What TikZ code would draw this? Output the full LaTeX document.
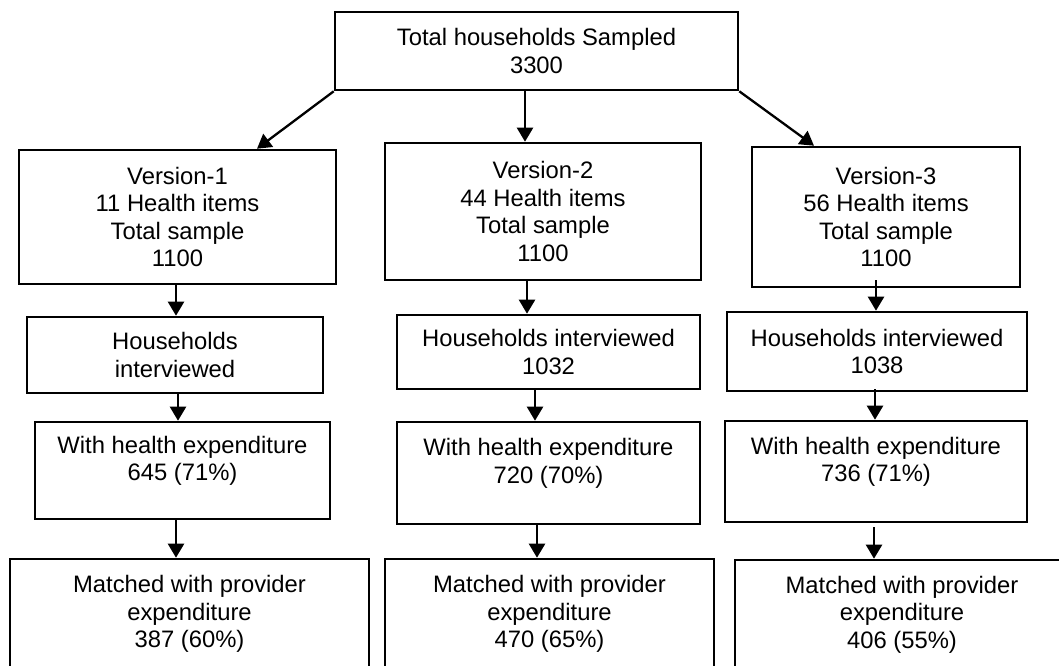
\documentclass[tikz,border=0pt]{standalone}
\usepackage{fontspec}
\setmainfont{Liberation Sans}
\usetikzlibrary{arrows.meta}
\begin{document}
\begin{tikzpicture}[x=1pt,y=-1pt,
  box/.style={draw, line width=2.6pt, align=center, inner sep=0pt,
    font=\fontsize{23.8}{27.5}\selectfont},
  arr/.style={line width=2.3pt, -{Triangle[width=16pt,length=14pt]}}]
\useasboundingbox (0,0) rectangle (1059,665);
% top
\node[box, minimum width=403pt, minimum height=78pt] (t) at (536.5,51)
  {Total households Sampled\\3300};
% versions
\node[box, minimum width=317pt, minimum height=134pt] (v1) at (177.5,217)
  {Version-1\\11 Health items\\Total sample\\1100};
\node[box, minimum width=316pt, minimum height=137pt] (v2) at (543,211.5)
  {Version-2\\44 Health items\\Total sample\\1100};
\node[box, minimum width=268pt, minimum height=140pt] (v3) at (886,217)
  {Version-3\\56 Health items\\Total sample\\1100};
% households interviewed
\node[box, minimum width=296pt, minimum height=76pt] (h1) at (175,355)
  {Households\\interviewed};
\node[box, minimum width=303pt, minimum height=74pt] (h2) at (548.5,352)
  {Households interviewed\\1032};
\node[box, minimum width=300pt, minimum height=79pt] (h3) at (877,351.5)
  {Households interviewed\\1038};
% with health expenditure
\node[box, minimum width=295pt, minimum height=97pt] (w1) at (182.5,470.5)
  {With health expenditure\\645 (71\%)\rule[-24pt]{0pt}{24pt}};
\node[box, minimum width=303pt, minimum height=102pt] (w2) at (548.5,473)
  {With health expenditure\\720 (70\%)\rule[-24pt]{0pt}{24pt}};
\node[box, minimum width=302pt, minimum height=101pt] (w3) at (876,471.5)
  {With health expenditure\\736 (71\%)\rule[-24pt]{0pt}{24pt}};
% matched
\node[box, minimum width=359pt, minimum height=110pt] (m1) at (189.5,614)
  {Matched with provider\\expenditure\\387 (60\%)};
\node[box, minimum width=329pt, minimum height=110pt] (m2) at (549.5,614)
  {Matched with provider\\expenditure\\470 (65\%)};
\node[box, minimum width=334pt, minimum height=109pt] (m3) at (902,614.5)
  {Matched with provider\\expenditure\\406 (55\%)};
% arrow columns
\coordinate (a1) at (257,0);
\coordinate (a2) at (525,0);
\coordinate (a3) at (814,0);
% connectors
\draw[arr] (t.south west) -- (v1.north -| a1);
\draw[arr] (t.south -| a2) -- (v2.north -| a2);
\draw[arr] (t.south east) -- (v3.north -| a3);
\draw[arr] (v1.south -| 176,0) -- (h1.north -| 176,0);
\draw[arr] (h1.south -| 178,0) -- (w1.north -| 178,0);
\draw[arr] (w1.south -| 176,0) -- (m1.north -| 176,0);
\draw[arr] (v2.south -| 527,0) -- (h2.north -| 527,0);
\draw[arr] (h2.south -| 535,0) -- (w2.north -| 535,0);
\draw[arr] (w2.south -| 537,0) -- (m2.north -| 537,0);
\draw[arr] ([yshift=8pt]v3.south -| 876,0) -- (h3.north -| 876,0);
\draw[arr] ([yshift=3pt]h3.south -| 875,0) -- (w3.north -| 875,0);
\draw[arr] ([yshift=-4pt]w3.south -| 874,0) -- (m3.north -| 874,0);
\end{tikzpicture}
\end{document}
